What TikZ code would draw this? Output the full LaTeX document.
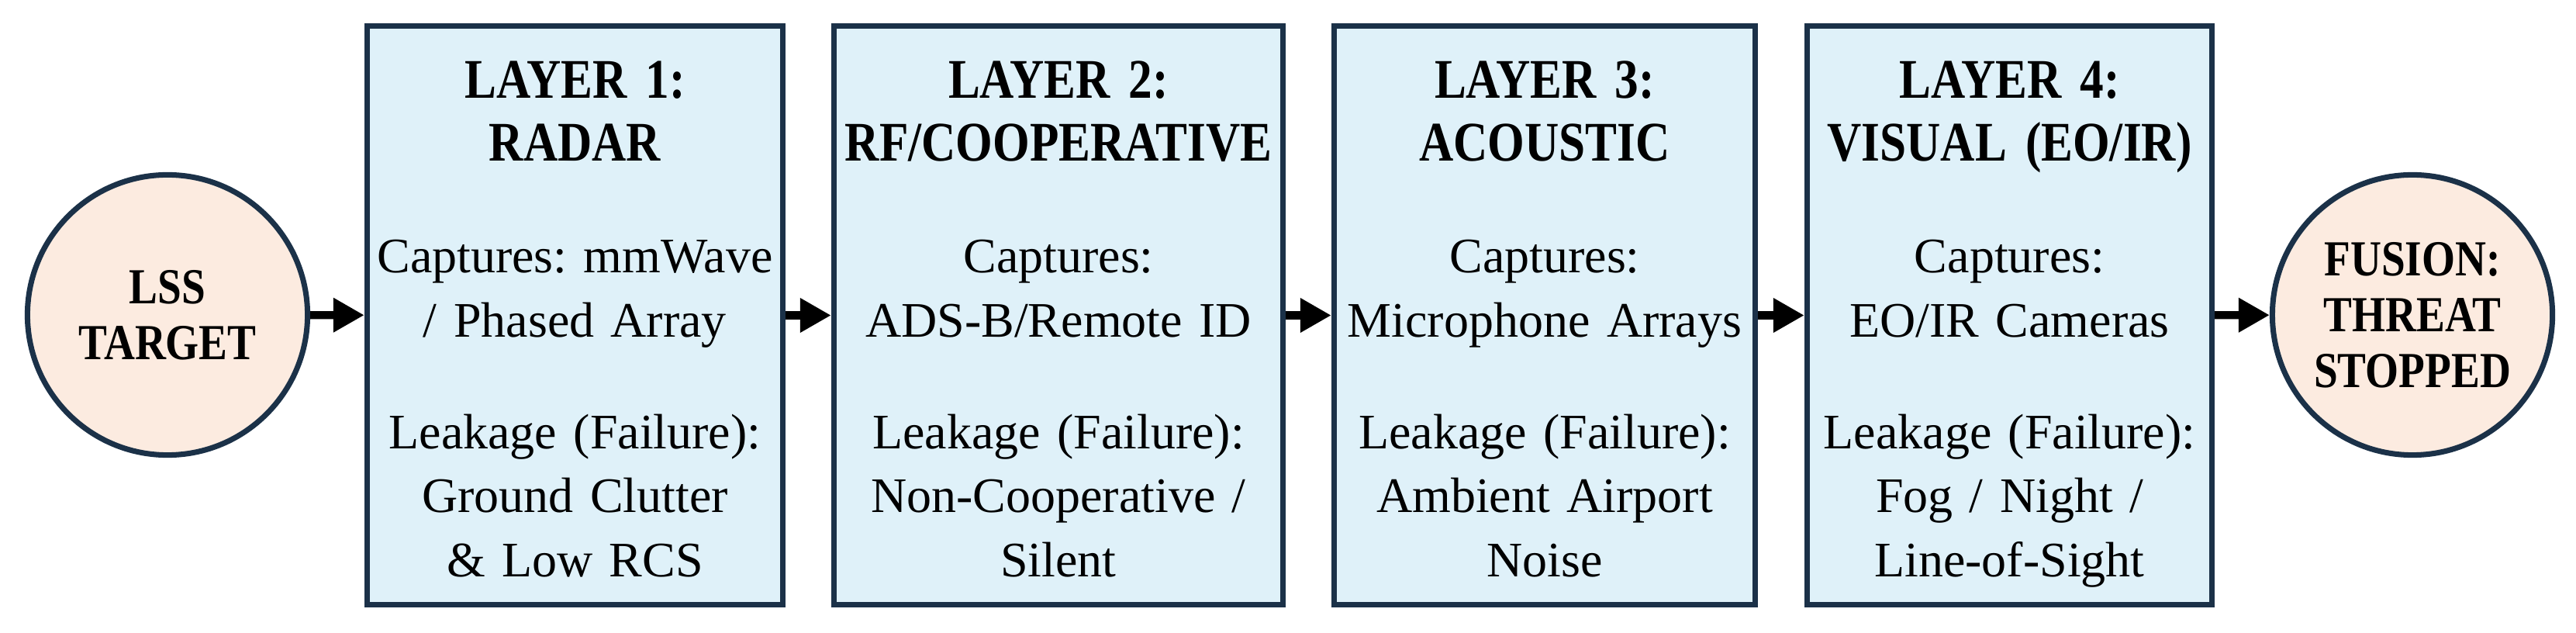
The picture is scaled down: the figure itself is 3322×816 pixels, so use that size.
\documentclass[tikz,border=0pt]{standalone}
\usepackage{fontspec}
\setmainfont{Liberation Serif}
\newfontfamily\condbold{Liberation Serif}[FakeStretch=0.85]
\usepackage{tikz}
\usetikzlibrary{arrows.meta,positioning}
\definecolor{navy}{HTML}{1B3148}
\definecolor{softblue}{HTML}{DFF1F9}
\definecolor{softpeach}{HTML}{FCEBE0}
\frenchspacing

\tikzset{
  layerbox/.style={draw=navy,fill=softblue,line width=2pt,minimum height=7.46cm,inner sep=0pt},
  endcircle/.style={circle,draw=navy,fill=softpeach,line width=2pt,minimum size=3.61cm,inner sep=0pt,
    align=center,font=\condbold\bfseries\fontsize{18.5}{20.5}\selectfont},
  bodytext/.style={text width=5.6cm,align=center,inner sep=0pt,anchor=base,
    font=\fontsize{18.2}{23.6}\selectfont},
  titletext/.style={bodytext,font=\condbold\bfseries\fontsize{20.5}{23}\selectfont},
  flow/.style={-{Triangle[length=0.4cm,width=0.42cm]},line width=2.9pt}
}

\begin{document}
\begin{tikzpicture}[x=0.01cm,y=-0.01cm]
  \useasboundingbox (0,0) rectangle (3322,816);
  \node[endcircle] (lss) at (216,406) {LSS\\TARGET};
  \node[endcircle] (fusion) at (3111,406) {FUSION:\\THREAT\\STOPPED};
  \foreach \lyr/\xc/\bw/\ttl/\capt/\leak in {
      1/741.5/5.36/{LAYER 1:\\RADAR}/{Captures: mmWave\\/ Phased Array}/{Leakage (Failure):\\Ground Clutter\\\& Low RCS},
      2/1365/5.79/{LAYER 2:\\RF/COOPERATIVE}/{Captures:\\ADS-B/Remote ID}/{Leakage (Failure):\\Non-Cooperative /\\Silent},
      3/1992/5.43/{LAYER 3:\\ACOUSTIC}/{Captures:\\Microphone Arrays}/{Leakage (Failure):\\Ambient Airport\\Noise},
      4/2591.5/5.22/{LAYER 4:\\VISUAL (EO/IR)}/{Captures:\\EO/IR Cameras}/{Leakage (Failure):\\Fog / Night /\\Line-of-Sight}} {
    \node[layerbox,minimum width=\bw cm] (L\lyr) at (\xc,406.5) {};
    \node[titletext] (title\lyr) at (\xc,127) {\ttl};
    \node[bodytext] (capt\lyr) at (\xc,352) {\capt};
    \node[bodytext] (leak\lyr) at (\xc,578) {\leak};
  }
  \foreach \a/\b in {lss/L1,L1/L2,L2/L3,L3/L4,L4/fusion}
    \draw[flow] (\a) -- (\b);
\end{tikzpicture}
\end{document}
